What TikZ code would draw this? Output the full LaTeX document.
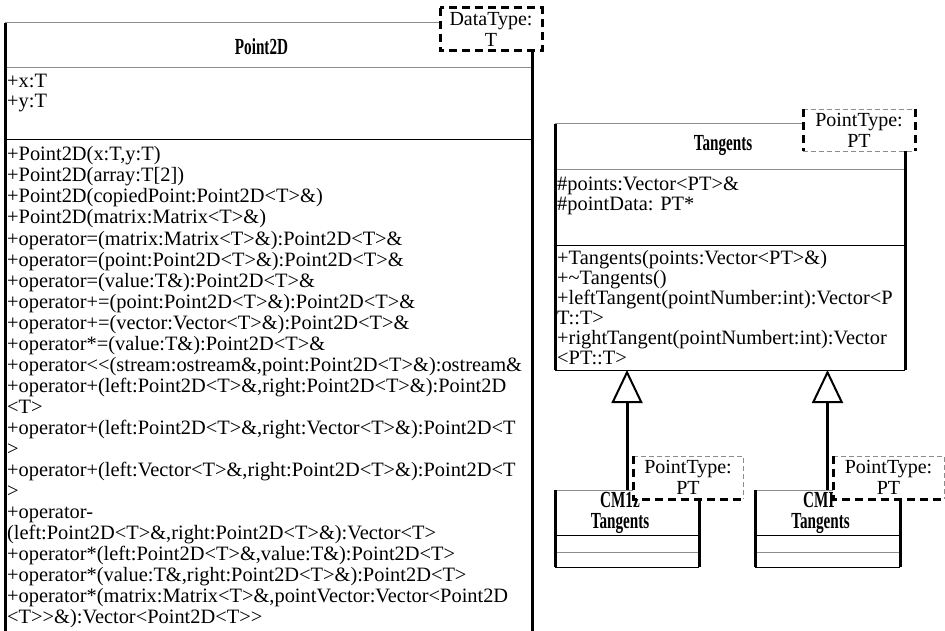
\documentclass[tikz,border=0pt]{standalone}
\usepackage{fontspec}
\setmainfont{Liberation Serif}
\newfontfamily\namefont[FakeStretch=0.66]{Liberation Serif Bold}
\usetikzlibrary{arrows.meta}

\begin{document}
\begin{tikzpicture}[x=1pt,y=-1pt,
  classbox/.style={rectangle,inner sep=0pt,outer sep=0pt,anchor=north west},
  member/.style={anchor=base west,inner sep=0pt,font=\fontsize{20.4}{21}\selectfont},
  classname/.style={inner sep=0pt,align=center,font=\namefont\fontsize{23}{21}\selectfont},
  side/.style={line width=3pt},
  topline/.style={black!45,line width=1pt},
  divider/.style={line width=1pt},
  tmpl/.style={rectangle,fill=white,inner sep=0pt,outer sep=0pt,anchor=north west,align=center,font=\fontsize{20}{21}\selectfont},
  tmplthick/.style={line width=3pt,dash pattern=on 8pt off 5pt},
  tmplthin/.style={black!45,line width=0.8pt,dash pattern=on 5pt off 3pt},
  inherit/.style={line width=3pt,-{Triangle[open,width=31pt,length=33pt,line width=2pt]}}
]

  \useasboundingbox (0,0) rectangle (945,631);

  % Point2D
  \node[classbox,minimum width=527pt,minimum height=608pt] (point2d) at (5,23) {};
  \draw[topline] (point2d.north west) -- (point2d.north east);
  \draw[topline] ([yshift=-45pt]point2d.north west) -- ([yshift=-45pt]point2d.north east);
  \draw[divider] ([yshift=-117pt]point2d.north west) -- ([yshift=-117pt]point2d.north east);
  \draw[side] (point2d.north west) -- (point2d.south west);
  \draw[side] (point2d.north east) -- (point2d.south east);
  \node[classname] (point2d-name) at ([xshift=-7pt,yshift=-24pt]point2d.north) {Point2D};

  \foreach \txt [count=\i from 0] in {{+x:T},{+y:T}}
  {
    \node[member] (p-attr-\i) at (7,88+20*\i) {\txt};
  }
  \foreach \txt [count=\i from 0] in {
    {+Point2D(x:T,y:T)},
    {+Point2D(array:T[2])},
    {+Point2D(copiedPoint:Point2D<T>\&)},
    {+Point2D(matrix:Matrix<T>\&)},
    {+operator=(matrix:Matrix<T>\&):Point2D<T>\&},
    {+operator=(point:Point2D<T>\&):Point2D<T>\&},
    {+operator=(value:T\&):Point2D<T>\&},
    {+operator+=(point:Point2D<T>\&):Point2D<T>\&},
    {+operator+=(vector:Vector<T>\&):Point2D<T>\&},
    {+operator*=(value:T\&):Point2D<T>\&},
    {+operator<{}<(stream:ostream\&,point:Point2D<T>\&):ostream\&},
    {+operator+(left:Point2D<T>\&,right:Point2D<T>\&):Point2D},
    {<T>},
    {+operator+(left:Point2D<T>\&,right:Vector<T>\&):Point2D<T},
    {>},
    {+operator+(left:Vector<T>\&,right:Point2D<T>\&):Point2D<T},
    {>},
    {+operator-},
    {(left:Point2D<T>\&,right:Point2D<T>\&):Vector<T>},
    {+operator*(left:Point2D<T>\&,value:T\&):Point2D<T>},
    {+operator*(value:T\&,right:Point2D<T>\&):Point2D<T>},
    {+operator*(matrix:Matrix<T>\&,pointVector:Vector<Point2D},
    {<T>{}>\&):Vector<Point2D<T>{}>}}
  {
    \node[member] (p-op-\i) at (7,161+21*\i) {\txt};
  }

  % Tangents
  \node[classbox,minimum width=350pt,minimum height=246pt] (tangents) at (555,124) {};
  \draw[topline] (tangents.north west) -- (tangents.north east);
  \draw[topline] ([yshift=-46pt]tangents.north west) -- ([yshift=-46pt]tangents.north east);
  \draw[divider] ([yshift=-121pt]tangents.north west) -- ([yshift=-121pt]tangents.north east);
  \draw[divider] (tangents.south west) -- (tangents.south east);
  \draw[side] (tangents.north west) -- (tangents.south west);
  \draw[side] (tangents.north east) -- (tangents.south east);
  \node[classname] (tangents-name) at ([xshift=-7pt,yshift=-22pt]tangents.north) {Tangents};

  \foreach \txt [count=\i from 0] in {{\#points:Vector<PT>\&},{\#pointData: PT*}}
  {
    \node[member] (t-attr-\i) at (557,191+20*\i) {\txt};
  }
  \foreach \txt [count=\i from 0] in {
    {+Tangents(points:Vector<PT>\&)},
    {+\textasciitilde Tangents()},
    {+leftTangent(pointNumber:int):Vector<P},
    {T::T>},
    {+rightTangent(pointNumbert:int):Vector},
    {<PT::T>}}
  {
    \node[member] (t-op-\i) at (557,264+20*\i) {\txt};
  }

  % subclasses
  \node[classbox,minimum width=144pt,minimum height=77pt] (cm1z) at (555,490) {};
  \node[classbox,minimum width=145pt,minimum height=77pt] (cmp) at (755,490) {};
  \foreach \c/\name in {cm1z/CM1z,cmp/CMP}
  {
    \draw[topline] (\c.north west) -- (\c.north east);
    \draw[divider] ([yshift=-45pt]\c.north west) -- ([yshift=-45pt]\c.north east);
    \draw[topline] ([yshift=-62pt]\c.north west) -- ([yshift=-62pt]\c.north east);
    \draw[divider] (\c.south west) -- (\c.south east);
    \draw[side] (\c.north west) -- (\c.south west);
    \draw[side] (\c.north east) -- (\c.south east);
    \node[classname] (\c-name) at ([xshift=-7pt,yshift=-23pt]\c.north) {\name\\Tangents};
    \draw[inherit] (\c.north) -- (\c.north |- tangents.south);
  }

  % template parameters
  \node[tmpl,minimum width=102pt,minimum height=43pt] (datatype) at (440,8) {DataType:\\T};
  \draw[tmplthick] (datatype.north west) rectangle (datatype.south east);

  \node[tmpl,minimum width=112pt,minimum height=42pt] (t-type) at (803,109) {PointType:\\PT};
  \draw[tmplthin] (t-type.north west) -- (t-type.north east);
  \draw[tmplthin] (t-type.south west) -- (t-type.south east);
  \draw[tmplthick] (t-type.north west) -- (t-type.south west);
  \draw[tmplthick] (t-type.north east) -- (t-type.south east);

  \node[tmpl,minimum width=110pt,minimum height=43pt] (cm1z-type) at (633,456) {PointType:\\PT};
  \node[tmpl,minimum width=111pt,minimum height=43pt] (cmp-type) at (833,456) {PointType:\\PT};
  \foreach \t in {cm1z-type,cmp-type}
  {
    \draw[tmplthin] (\t.north west) -- (\t.north east) -- (\t.south east);
    \draw[tmplthick] (\t.north west) -- (\t.south west) -- (\t.south east);
  }

\end{tikzpicture}
\end{document}
